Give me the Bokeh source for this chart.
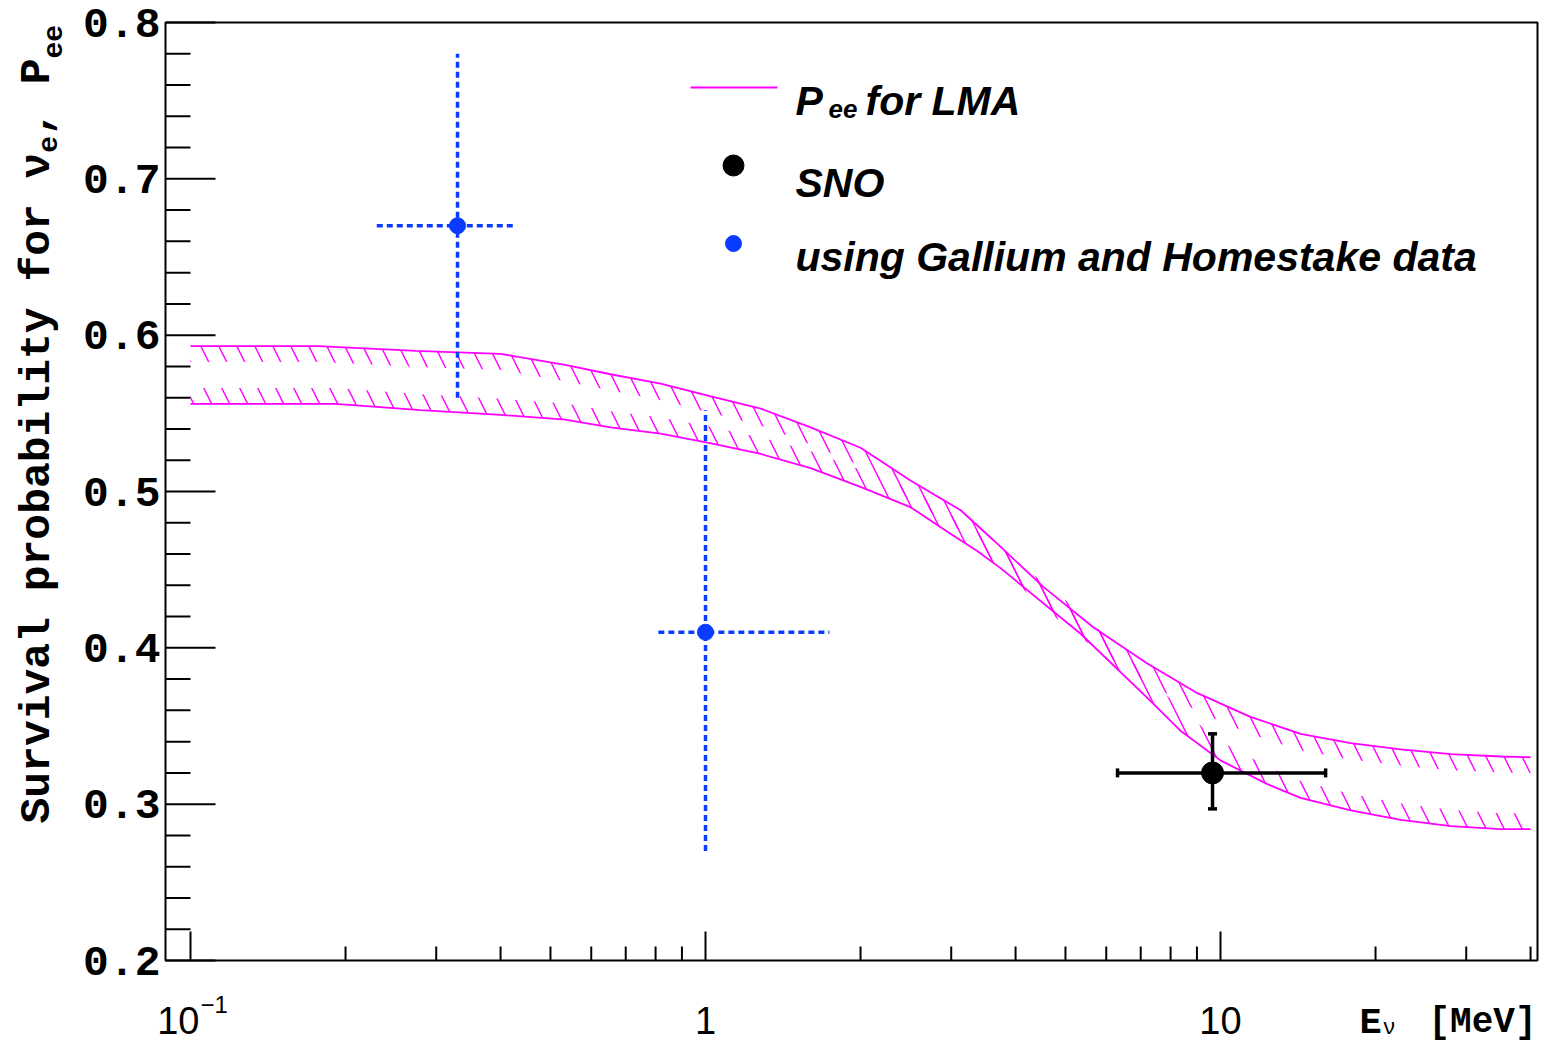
import numpy as np
from bokeh.plotting import figure
from bokeh.models import Range1d, Label
from bokeh.embed import file_html
from bokeh.resources import INLINE

# ---------------- data ----------------
E_upper = [0.1, 0.177, 0.274, 0.40, 0.534, 0.654, 0.818, 1.02, 1.28, 1.60, 2.0, 2.5, 3.13,
           3.62, 4.53, 5.67, 7.21, 9.02, 11.4, 14.3, 17.9, 22.4, 28.0, 35.0, 40.0]
P_upper = [0.593, 0.593, 0.590, 0.588, 0.581, 0.575, 0.569, 0.561, 0.553, 0.541, 0.528, 0.507, 0.488,
           0.469, 0.439, 0.413, 0.390, 0.371, 0.356, 0.345, 0.339, 0.335, 0.332, 0.3305, 0.330]
E_lower = [0.1, 0.191, 0.280, 0.40, 0.534, 0.654, 0.818, 1.02, 1.28, 1.60, 2.0, 2.5, 2.99,
           3.37, 3.74, 5.35, 7.21, 8.36, 10.0, 12.3, 14.3, 17.9, 22.4, 28.0, 35.0, 40.0]
P_lower = [0.556, 0.556, 0.552, 0.549, 0.546, 0.541, 0.537, 0.531, 0.524, 0.515, 0.503, 0.490, 0.473,
           0.462, 0.451, 0.409, 0.368, 0.347, 0.328, 0.313, 0.304, 0.296, 0.290, 0.286, 0.284, 0.284]

sno_E = [9.65]
sno_P = [0.320]
sno_E_lo = [6.31]
sno_E_hi = [16.0]
sno_P_lo = [0.297]
sno_P_hi = [0.345]

ga_E = [0.33, 1.0]
ga_P = [0.67, 0.41]
ga_E_lo = [0.23, 0.81]
ga_E_hi = [0.43, 1.74]
ga_P_lo = [0.56, 0.27]
ga_P_hi = [0.78, 0.552]

x_major_ticks = [0.1, 1, 10]
x_tick_text = ["10", "1", "10"]
x_tick_expo = ["\u22121", "", ""]
x_minor_ticks = [0.2, 0.3, 0.4, 0.5, 0.6, 0.7, 0.8, 0.9,
                 2, 3, 4, 5, 6, 7, 8, 9, 20, 30, 40]
y_major_ticks = [0.2, 0.3, 0.4, 0.5, 0.6, 0.7, 0.8]
y_minor_ticks = [0.22, 0.24, 0.26, 0.28, 0.32, 0.34, 0.36, 0.38, 0.42, 0.44, 0.46, 0.48,
                 0.52, 0.54, 0.56, 0.58, 0.62, 0.64, 0.66, 0.68, 0.72, 0.74, 0.76, 0.78]
y_range_lo, y_range_hi = 0.2, 0.8

legend_items = ["for LMA", "SNO", "using Gallium and Homestake data"]

# ---------------- layout helpers (canvas pixel -> data) ----------------
W_CANVAS, H_CANVAS = 1539, 1044
DEC = 515.0            # px per decade
PXU = 938.0 / 0.6      # px per unit of probability


def X(px):
    return 10 ** (-1 + (px - 190.0) / DEC)


def Y(py):
    return 0.8 - (py - 22.0) / PXU


FRAME_L, FRAME_R = 165, 1537

MAG = "#ff00ff"
BLUE = "#0a3cff"
MONO = "Liberation Mono"
SANS = "Liberation Sans"

p = figure(width=W_CANVAS, height=H_CANVAS, x_axis_type="log",
           x_range=Range1d(X(0), X(W_CANVAS)), y_range=Range1d(Y(H_CANVAS), Y(0)),
           x_axis_location=None, y_axis_location=None,
           output_backend="svg", toolbar_location=None,
           min_border=0, min_border_left=0, min_border_right=0, min_border_top=0, min_border_bottom=0)
p.xgrid.visible = False
p.ygrid.visible = False
p.outline_line_color = None
p.background_fill_color = "white"
p.border_fill_color = "white"

xl, xr = X(FRAME_L), X(FRAME_R)

# ---------------- LMA band (hatched strips inside the two edges) ----------------
W = 16.0  # hatch strip width in px


def strip_offset(E, P):
    lx = np.log10(np.array(E)) * DEC
    ly = np.array(P) * PXU
    s = np.gradient(ly, lx)
    return W * np.sqrt(1 + s ** 2) / PXU


Pu = np.array(P_upper)
Pl = np.array(P_lower)
hatch = dict(fill_color=None, hatch_pattern="left_diagonal_line", hatch_color=MAG,
             hatch_scale=36, hatch_weight=1.4)
p.varea(x=E_upper, y1=Pu, y2=Pu - strip_offset(E_upper, P_upper), **hatch)
p.varea(x=E_lower, y1=Pl, y2=Pl + strip_offset(E_lower, P_lower), **hatch)
p.line(E_upper, P_upper, line_color=MAG, line_width=1.8)
p.line(E_lower, P_lower, line_color=MAG, line_width=1.8)

# ---------------- frame, ticks ----------------
p.quad(left=[xl], right=[xr], bottom=[y_range_lo], top=[y_range_hi],
       fill_color=None, line_color="black", line_width=2)
# y ticks (pointing into the frame)
p.segment(x0=[xl] * len(y_major_ticks), x1=[X(FRAME_L + 50)] * len(y_major_ticks),
          y0=y_major_ticks, y1=y_major_ticks, line_color="black", line_width=2)
p.segment(x0=[xl] * len(y_minor_ticks), x1=[X(FRAME_L + 25)] * len(y_minor_ticks),
          y0=y_minor_ticks, y1=y_minor_ticks, line_color="black", line_width=2)
# x ticks
p.segment(x0=x_major_ticks, x1=x_major_ticks, y0=[y_range_lo] * len(x_major_ticks),
          y1=[Y(960 - 29)] * len(x_major_ticks), line_color="black", line_width=2)
p.segment(x0=x_minor_ticks, x1=x_minor_ticks, y0=[y_range_lo] * len(x_minor_ticks),
          y1=[Y(960 - 14)] * len(x_minor_ticks), line_color="black", line_width=2)

# ---------------- Gallium / Homestake points ----------------
p.segment(x0=ga_E_lo, y0=ga_P, x1=ga_E_hi, y1=ga_P, line_color=BLUE, line_width=3.5, line_dash="6 4")
p.segment(x0=ga_E, y0=ga_P_lo, x1=ga_E, y1=ga_P_hi, line_color=BLUE, line_width=3.5, line_dash="6 4")
p.scatter(ga_E, ga_P, marker="circle", size=16, fill_color=BLUE, line_color=BLUE)

# ---------------- SNO point ----------------
p.segment(x0=sno_E_lo, y0=sno_P, x1=sno_E_hi, y1=sno_P, line_color="black", line_width=3.5)
p.segment(x0=sno_E, y0=sno_P_lo, x1=sno_E, y1=sno_P_hi, line_color="black", line_width=3.5)
p.scatter(x=sno_E + sno_E, y=sno_P_lo + sno_P_hi, marker="dash", size=9, line_width=3.5, line_color="black")
p.scatter(x=sno_E_lo + sno_E_hi, y=sno_P + sno_P, marker="dash", angle=np.pi / 2, size=9,
          line_width=3.5, line_color="black")
p.scatter(sno_E, sno_P, marker="circle", size=22, fill_color="black", line_color="black")

# ---------------- legend ----------------
p.line(x=[X(690), X(777)], y=[Y(87), Y(87)], line_color=MAG, line_width=2)
p.scatter(x=[X(733)], y=[Y(165)], marker="circle", size=21, fill_color="black", line_color="black")
p.scatter(x=[X(733)], y=[Y(243)], marker="circle", size=16, fill_color=BLUE, line_color=BLUE)


def lab(x, y, text, size, font=SANS, style="bold italic", align="left", angle=0,
        x_offset=0, baseline="alphabetic"):
    p.add_layout(Label(x=x, y=y, text=text, text_font=font, text_font_style=style,
                       text_font_size=f"{size}px", text_color="black", text_align=align,
                       text_baseline=baseline, angle=angle, angle_units="deg", x_offset=x_offset))


lab(X(795), Y(100), "P", 41)
lab(X(828), Y(108), "ee", 26)
lab(X(865), Y(100), legend_items[0], 41)
lab(X(795), Y(182), legend_items[1], 41)
lab(X(795), Y(256), legend_items[2], 41)

# ---------------- tick labels ----------------
for t in y_major_ticks:
    lab(X(FRAME_L - 5), t, f"{t:.1f}", 43, font=MONO, style="bold", align="right", baseline="middle")

for t, txt, ex in zip(x_major_ticks, x_tick_text, x_tick_expo):
    if ex:
        lab(t, Y(1020), txt, 38, style="normal", align="right", x_offset=9)
        lab(t, Y(1004), ex, 24, style="normal", align="left", x_offset=10)
    else:
        lab(t, Y(1020), txt, 38, style="normal", align="center")

# ---------------- y axis title (rotated, with subscripts) ----------------
title_parts = [("Survival probability for \u03bd", 43, 37), ("e", 28, 47), (", ", 43, 37),
               ("P", 43, 37), ("ee", 28, 52)]
ycur = 823.0
for txt, size, bx in title_parts:
    lab(X(bx), Y(ycur), txt, size, font=MONO, style="bold", angle=90)
    ycur -= len(txt) * 0.6 * size

# ---------------- x axis title ----------------
lab(X(1359), Y(1022), "E", 37, font=MONO, style="bold")
lab(X(1382), Y(1028), "\u03bd", 22, font=MONO, style="normal")
lab(X(1536), Y(1022), "[MeV]", 36, font=MONO, style="bold", align="right")

open("out.html", "w").write(file_html(p, INLINE))
